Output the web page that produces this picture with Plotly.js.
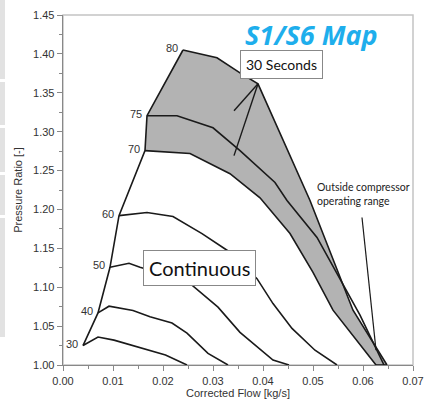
<!DOCTYPE html>
<html>
<head>
<meta charset="utf-8">
<script src="https://cdn.plot.ly/plotly-3.0.1.min.js"></script>
<style>html,body{margin:0;padding:0;background:#fff;}#chart{width:425px;height:401px;}</style>
</head>
<body>
<div id="chart"></div>
<script>
// Surge line points (speeds 30..80)
var speedLabels = ['30', '40', '50', '60', '70', '75', '80'];
var surgeX = [0.004, 0.007, 0.0094, 0.0112, 0.0164, 0.0168, 0.024];
var surgeY = [1.025, 1.067, 1.1256, 1.192, 1.2756, 1.3205, 1.405];

// Speed lines
var s30x = [0.004, 0.007, 0.0102, 0.0154, 0.0205, 0.0248];
var s30y = [1.025, 1.036, 1.032, 1.022, 1.0128, 1.0];
var s40x = [0.007, 0.0092, 0.014, 0.0174, 0.0218, 0.0248, 0.029, 0.033];
var s40y = [1.067, 1.0756, 1.070, 1.062, 1.054, 1.041, 1.015, 1.0];
var s50x = [0.0094, 0.0132, 0.0154, 0.0205, 0.0258, 0.031, 0.0354, 0.042, 0.0452];
var s50y = [1.1256, 1.1308, 1.1256, 1.116, 1.1026, 1.0744, 1.042, 1.0064, 1.0];
var s60x = [0.0112, 0.0168, 0.022, 0.0278, 0.0334, 0.0388, 0.042, 0.0458, 0.0504, 0.0548];
var s60y = [1.192, 1.196, 1.191, 1.169, 1.145, 1.111, 1.079, 1.047, 1.019, 1.0];
var s70x = [0.0164, 0.0254, 0.0334, 0.0394, 0.0454, 0.050, 0.054, 0.0584, 0.0626];
var s70y = [1.2756, 1.272, 1.246, 1.215, 1.169, 1.119, 1.0705, 1.0346, 1.0];
var s75x = [0.0168, 0.0228, 0.030, 0.0354, 0.0424, 0.0448, 0.0508, 0.0554, 0.0594, 0.0642];
var s75y = [1.3205, 1.3205, 1.305, 1.2756, 1.2346, 1.2115, 1.164, 1.1115, 1.064, 1.0];
var s80x = [0.024, 0.0308, 0.0354, 0.039, 0.0494, 0.058, 0.0648];
var s80y = [1.405, 1.395, 1.3756, 1.3615, 1.2115, 1.0705, 1.0];

var xTickVals = [0, 0.01, 0.02, 0.03, 0.04, 0.05, 0.06, 0.07];
var xTickText = ['0.00', '0.01', '0.02', '0.03', '0.04', '0.05', '0.06', '0.07'];
var yTickVals = [1.00, 1.05, 1.10, 1.15, 1.20, 1.25, 1.30, 1.35, 1.40, 1.45];
var yTickText = ['1.00', '1.05', '1.10', '1.15', '1.20', '1.25', '1.30', '1.35', '1.40', '1.45'];

// Fill polygon for 30-second region (70 line -> 80 line reversed -> surge 75)
var fillX = s70x.concat(s80x.slice().reverse(), [surgeX[5], surgeX[4]]);
var fillY = s70y.concat(s80y.slice().reverse(), [surgeY[5], surgeY[4]]);

var lineStyle = {color: '#1a1a1a', width: 1.6};
function ln(x, y) {
  return {x: x, y: y, mode: 'lines', type: 'scatter', line: lineStyle, hoverinfo: 'skip', showlegend: false};
}

var traces = [
  {x: fillX, y: fillY, mode: 'lines', type: 'scatter', fill: 'toself', fillcolor: '#b3b3b3',
   line: {width: 0, color: 'rgba(0,0,0,0)'}, hoverinfo: 'skip', showlegend: false},
  ln(s30x, s30y), ln(s40x, s40y), ln(s50x, s50y), ln(s60x, s60y),
  ln(s70x, s70y), ln(s75x, s75y), ln(s80x, s80y),
  ln([s70x[s70x.length - 1], s80x[s80x.length - 1]], [s70y[s70y.length - 1], s80y[s80y.length - 1]]),
  ln(surgeX, surgeY)
];

var annotations = [];
for (var i = 0; i < speedLabels.length; i++) {
  annotations.push({x: surgeX[i], y: surgeY[i], xref: 'x', yref: 'y', text: speedLabels[i],
    showarrow: false, xanchor: 'right', yanchor: 'middle', xshift: -3, yshift: 2,
    font: {family: 'Liberation Sans, Arial', size: 11, color: '#333'}});
}
annotations.push({xref: 'paper', yref: 'paper', x: 0.709, y: 0.945, text: '<b><i>S1/S6 Map</i></b>',
  showarrow: false, xanchor: 'center', yanchor: 'middle',
  font: {family: 'Open Sans', size: 27, color: '#1eaeec'}});
annotations.push({xref: 'paper', yref: 'paper', x: 0.624, y: 0.858, text: '30 Seconds',
  showarrow: false, xanchor: 'center', yanchor: 'middle', bgcolor: '#fff', bordercolor: '#888',
  borderwidth: 1, borderpad: 5, font: {family: 'Lato', size: 14, color: '#111'}});
annotations.push({xref: 'paper', yref: 'paper', x: 0.389, y: 0.276, text: 'Continuous',
  showarrow: false, xanchor: 'center', yanchor: 'middle', bgcolor: '#fff', bordercolor: '#888',
  borderwidth: 1, borderpad: 5, font: {family: 'Lato', size: 20, color: '#111'}});
annotations.push({xref: 'paper', yref: 'paper', x: 0.72, y: 0.489, text: 'Outside compressor<br>operating range',
  showarrow: false, xanchor: 'left', yanchor: 'middle', align: 'left',
  font: {family: 'Lato', size: 10.5, color: '#222'}});

var shapes = [
  {type: 'rect', xref: 'paper', yref: 'paper', x0: 0, x1: 1, y0: 0, y1: 1, layer: 'below',
   line: {color: '#c4c4c4', width: 1.5}},
  {type: 'line', xref: 'x', yref: 'y', x0: 0.039, y0: 1.3615, x1: 0.0342, y1: 1.327, line: {color: '#1a1a1a', width: 1.4}},
  {type: 'line', xref: 'x', yref: 'y', x0: 0.039, y0: 1.3615, x1: 0.0342, y1: 1.2692, line: {color: '#1a1a1a', width: 1.4}},
  {type: 'line', xref: 'x', yref: 'y', x0: 0.0598, y0: 1.1897, x1: 0.0626, y1: 1.0192, line: {color: '#1a1a1a', width: 1.2}}
];
// left-edge slide strips
var strips = [[0, 79], [82, 125], [128, 172], [175, 215], [218, 337]];
strips.forEach(function (s) {
  shapes.push({type: 'rect', xref: 'paper', yref: 'paper', x0: -63 / 350, x1: -58 / 350,
    y0: (365 - s[1]) / 350, y1: (365 - s[0]) / 350, line: {width: 0}, fillcolor: '#e2e2e2', layer: 'below'});
});

var axisFont = {family: 'Liberation Sans, Arial', size: 11, color: '#333'};
var layout = {
  width: 425, height: 401,
  margin: {l: 63, r: 12, t: 15, b: 36, pad: 0},
  paper_bgcolor: '#fff', plot_bgcolor: '#fff',
  showlegend: false,
  xaxis: {range: [0, 0.07], tickvals: xTickVals, ticktext: xTickText, ticks: 'outside', ticklen: 5,
    tickcolor: '#888', showline: true, linecolor: '#888', linewidth: 1.3, showgrid: false, zeroline: false,
    tickfont: axisFont, minor: {dtick: 0.005, ticks: 'outside', ticklen: 3, tickcolor: '#888'},
    title: {text: 'Corrected Flow [kg/s]', font: {family: 'Liberation Sans, Arial', size: 11, color: '#333'}, standoff: 3}},
  yaxis: {range: [1, 1.45], tickvals: yTickVals, ticktext: yTickText, ticks: 'outside', ticklen: 5,
    tickcolor: '#888', showline: true, linecolor: '#888', linewidth: 1.3, showgrid: false, zeroline: false,
    tickfont: axisFont, minor: {dtick: 0.025, ticks: 'outside', ticklen: 3, tickcolor: '#888'},
    title: {text: 'Pressure Ratio [-]', font: {family: 'Liberation Sans, Arial', size: 11, color: '#333'}, standoff: 8}},
  annotations: annotations,
  shapes: shapes
};

Plotly.newPlot('chart', traces, layout, {displayModeBar: false, staticPlot: true});
</script>
</body>
</html>
